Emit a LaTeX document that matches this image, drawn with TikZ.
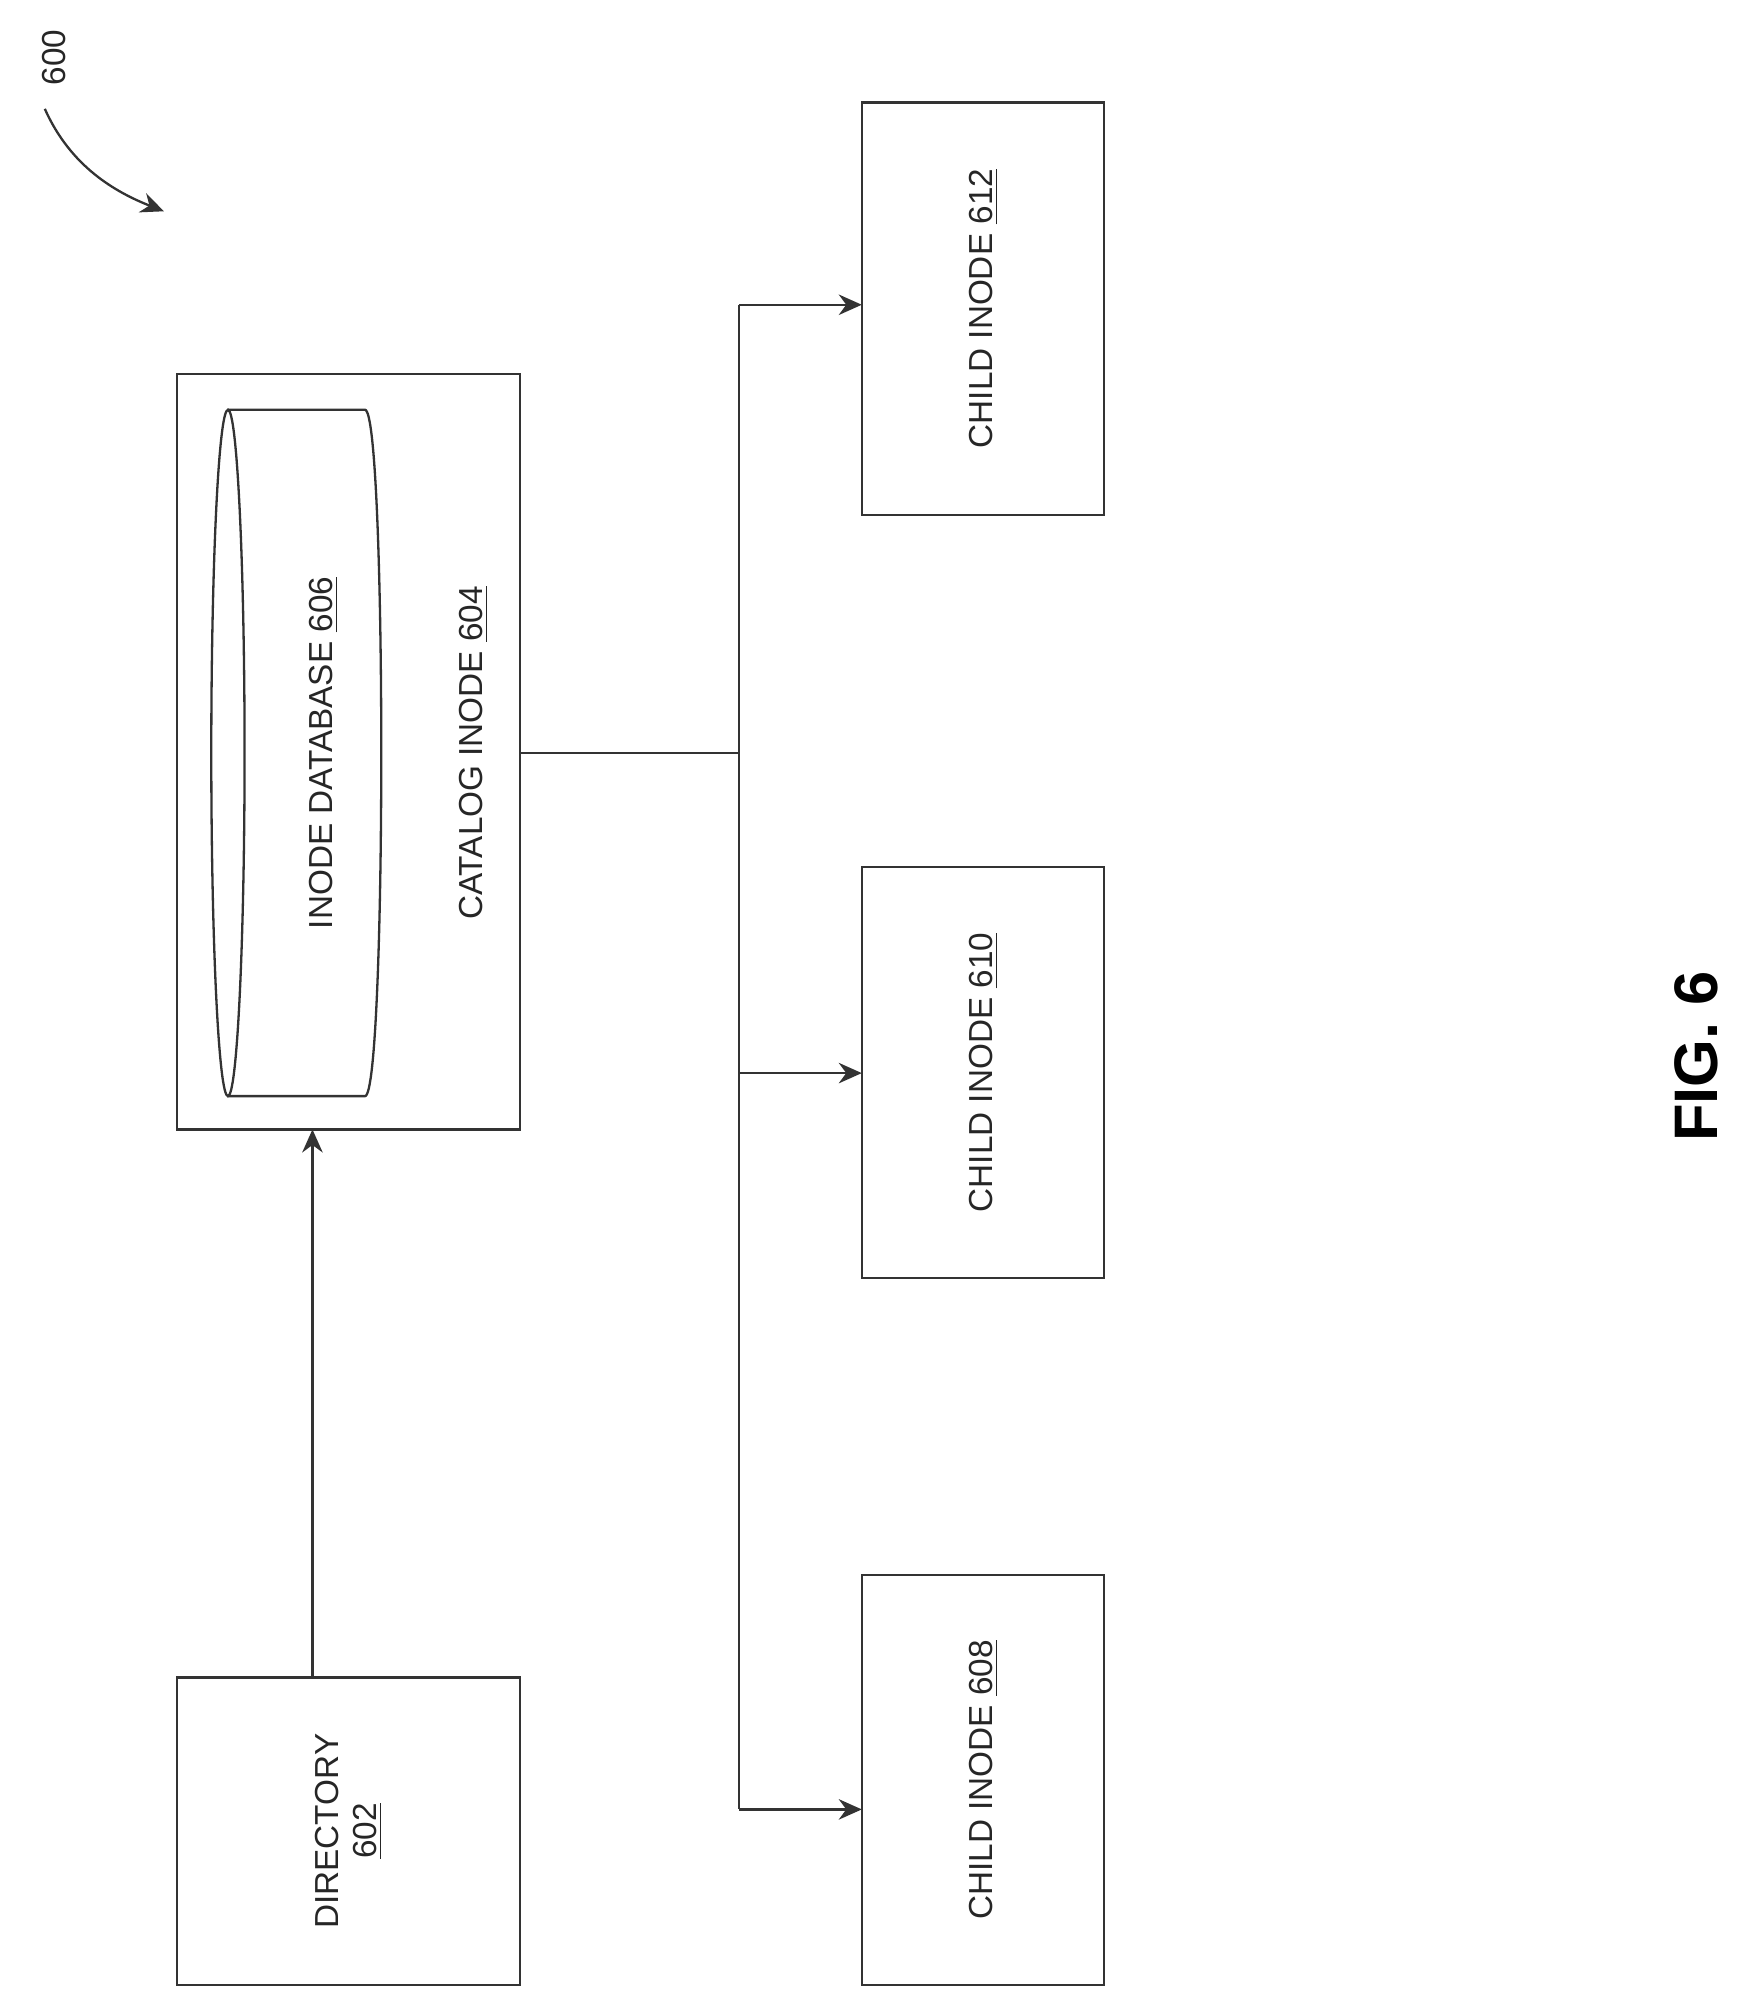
\documentclass[tikz,border=0pt]{standalone}
\usepackage{fontspec}
\setmainfont{Liberation Sans}
\usetikzlibrary{arrows.meta}

\begin{document}
\begin{tikzpicture}[x=0.5pt, y=-0.5pt,
    box/.style={draw=black!80, line width=0.9pt},
    lbl/.style={rotate=90, font=\fontsize{13}{15}\selectfont, text=black!85, align=center},
    arr/.style={-{Stealth[length=9pt,width=8pt]}, draw=black!80, line width=0.9pt}]
  \useasboundingbox (0,0) rectangle (1360,1572);

  % boxes
  \draw[box] (138,1310) rectangle (406,1550);
  \node[lbl] (dir) at (272,1430) {DIRECTORY\\\underline{602}};
  \draw[box] (138,292) rectangle (406,882);
  \node[lbl] (cat) at (370,588) {CATALOG INODE \underline{604}};
  \foreach \ya/\yb/\n in {80/402/612, 677/998/610, 1230/1550/608}
  {
    \draw[box] (673,\ya) rectangle (862,\yb);
    \node[lbl] (c\n) at (768,{(\ya+\yb)/2}) {CHILD INODE \underline{\n}};
  }

  % database cylinder
  \draw[box] (178,588) ellipse (6.5pt and 134pt);
  \draw[box] (178,320) -- (285,320) .. controls (302,320) and (302,856) .. (285,856) -- (178,856);
  \node[lbl] (db) at (253,588) {INODE DATABASE \underline{606}};

  % connectors
  \coordinate (dtop) at (244,1310);
  \coordinate (cbot) at (244,882);
  \draw[arr] (dtop) -- (cbot);
  \coordinate (cright) at (406,588);
  \coordinate (bus) at (577,588);
  \draw[box] (cright) -- (bus);
  \draw[box] (577,238) -- (577,1413);
  \foreach \y in {238, 838, 1413}
    \draw[arr] (577,\y) -- (673,\y);

  % reference label
  \node[lbl] (ref) at (42,45) {600};
  \draw[arr] (35,85) .. controls (55,130) and (90,150) .. (128,165);

  \node[rotate=90, font=\bfseries\fontsize{24}{28}\selectfont] (fig) at (1325,825) {FIG. 6};
\end{tikzpicture}
\end{document}
